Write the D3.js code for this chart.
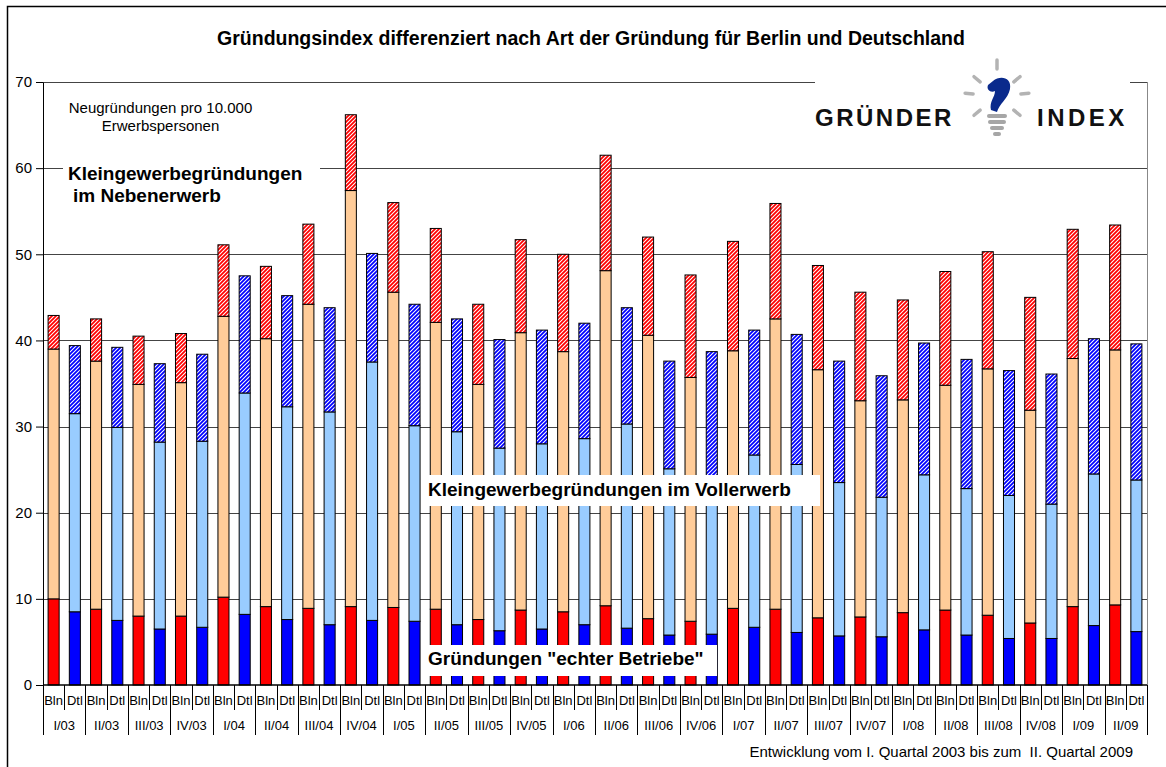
<!DOCTYPE html>
<html>
<head>
<meta charset="utf-8">
<script src="https://cdn.jsdelivr.net/npm/d3@7"></script>
<style>
  body { margin: 0; background: #fff; }
  text { font-family: "Liberation Sans", Arial, sans-serif; fill: #000; }
</style>
</head>
<body>
<div id="chart"></div>
<script>
// Quartale (I/03 bis II/09)
const quartale = ["I/03","II/03","III/03","IV/03","I/04","II/04","III/04","IV/04",
  "I/05","II/05","III/05","IV/05","I/06","II/06","III/06","IV/06",
  "I/07","II/07","III/07","IV/07","I/08","II/08","III/08","IV/08","I/09","II/09"];
const laender = ["Bln", "Dtl"];

// Berlin: Gründungen echter Betriebe, Kleingewerbe Vollerwerb, Kleingewerbe Nebenerwerb
const blnEcht  = [10.0,8.8,8.0,8.0,10.2,9.1,8.9,9.1,9.0,8.8,7.6,8.7,8.5,9.2,7.7,7.4,8.9,8.8,7.8,7.9,8.4,8.7,8.1,7.2,9.1,9.3];
const blnVoll  = [29.0,28.8,26.9,27.1,32.6,31.1,35.3,48.3,36.6,33.3,27.3,32.2,30.2,38.9,32.9,28.3,29.9,33.7,28.8,25.1,24.7,26.1,28.6,24.7,28.8,29.6];
const blnNeben = [3.9,4.9,5.6,5.7,8.3,8.4,9.3,8.8,10.4,10.9,9.3,10.8,11.3,13.4,11.4,11.9,12.7,13.4,12.1,12.6,11.6,13.2,13.6,13.1,15.0,14.5];

// Deutschland
const dtlEcht  = [8.5,7.5,6.5,6.7,8.2,7.6,7.0,7.5,7.4,7.0,6.3,6.5,7.0,6.6,5.8,5.9,6.7,6.1,5.7,5.6,6.4,5.8,5.4,5.4,6.9,6.2];
const dtlVoll  = [23.0,22.4,21.7,21.6,25.7,24.7,24.7,30.0,22.7,22.4,21.2,21.5,21.6,23.7,19.3,18.3,20.0,19.5,17.8,16.2,18.0,17.0,16.6,15.6,17.6,17.6];
const dtlNeben = [7.9,9.3,9.1,10.1,13.6,12.9,12.1,12.6,14.1,13.1,12.6,13.2,13.4,13.5,12.5,14.5,14.5,15.1,14.1,14.1,15.3,15.0,14.5,15.1,15.7,15.8];

const yTicks = [0,10,20,30,40,50,60,70];

// Zeilen für den Stapel
const rows = [];
quartale.forEach(function(q, i) {
    rows.push({ key: q + "-Bln", land: "Bln", quartal: q, echt: blnEcht[i], voll: blnVoll[i], neben: blnNeben[i] });
    rows.push({ key: q + "-Dtl", land: "Dtl", quartal: q, echt: dtlEcht[i], voll: dtlVoll[i], neben: dtlNeben[i] });
});

const width = 1166, height = 767;
const margin = { top: 82, right: 19, bottom: 82, left: 43 };
const plotRight = width - margin.right;

const svg = d3.select("#chart").append("svg")
    .attr("width", width)
    .attr("height", height);

// Schraffuren
const defs = svg.append("defs");
function schraffur(id, farbe) {
    const p = defs.append("pattern")
        .attr("id", id)
        .attr("patternUnits", "userSpaceOnUse")
        .attr("width", 4).attr("height", 4);
    p.append("rect").attr("width", 4).attr("height", 4).attr("fill", "#fff");
    p.append("path")
        .attr("d", "M-1,1 l2,-2 M0,4 l4,-4 M3,5 l2,-2")
        .attr("stroke", farbe)
        .attr("stroke-width", 1.8);
}
schraffur("schraffRot", "#ff0000");
schraffur("schraffBlau", "#0000ff");

const farben = {
    Bln: { echt: "#ff0000", voll: "#ffcc99", neben: "url(#schraffRot)" },
    Dtl: { echt: "#0000ff", voll: "#99ccff", neben: "url(#schraffBlau)" }
};

// Außenrahmen
svg.append("rect")
    .attr("x", 7.5).attr("y", 6.5)
    .attr("width", 1200).attr("height", 800)
    .attr("fill", "none")
    .attr("stroke", "#000")
    .attr("stroke-width", 1.5);

// Skalen
const x = d3.scaleBand()
    .domain(rows.map(d => d.key))
    .range([margin.left, plotRight])
    .paddingInner(0.48)
    .paddingOuter(0.24);

const y = d3.scaleLinear()
    .domain([0, 70])
    .range([685, margin.top]);

// Gitterlinien
svg.append("g")
    .selectAll("line")
    .data(yTicks.filter(t => t > 0))
  .enter().append("line")
    .attr("x1", margin.left).attr("x2", plotRight)
    .attr("y1", d => Math.round(y(d)) + 0.5).attr("y2", d => Math.round(y(d)) + 0.5)
    .attr("stroke", "#444")
    .attr("stroke-width", 1);

// rechter Rand der Zeichenfläche
svg.append("line")
    .attr("x1", plotRight + 0.5).attr("x2", plotRight + 0.5)
    .attr("y1", y(70)).attr("y2", y(0))
    .attr("stroke", "#888");

// Balken
const stack = d3.stack().keys(["echt", "voll", "neben"]);
const series = stack(rows);

svg.append("g")
    .selectAll("g")
    .data(series)
  .enter().append("g")
    .each(function(s) {
        d3.select(this).selectAll("rect")
            .data(s)
          .enter().append("rect")
            .attr("x", d => x(d.data.key))
            .attr("y", d => y(d[1]))
            .attr("width", x.bandwidth())
            .attr("height", d => y(d[0]) - y(d[1]))
            .attr("fill", d => farben[d.data.land][s.key])
            .attr("stroke", "#000")
            .attr("stroke-width", 1);
    });

// Y-Achse
const yAxis = d3.axisLeft(y)
    .tickValues(yTicks)
    .tickSize(7)
    .tickSizeOuter(0)
    .tickPadding(4);

const yG = svg.append("g")
    .attr("transform", "translate(" + margin.left + ",0)")
    .call(yAxis);
yG.selectAll("text").style("font-size", "15px");
yG.selectAll("line, path").attr("stroke", "#000");

// X-Achse (zweistufig)
const step = x.step();
const x0 = x.range()[0];
const xG = svg.append("g");

xG.append("line")
    .attr("x1", margin.left).attr("x2", plotRight)
    .attr("y1", y(0)).attr("y2", y(0))
    .attr("stroke", "#000")
    .attr("stroke-width", 1.5);

xG.selectAll(".trenner")
    .data(d3.range(rows.length + 1))
  .enter().append("line")
    .attr("class", "trenner")
    .attr("x1", i => Math.round(x0 + i * step) + 0.5)
    .attr("x2", i => Math.round(x0 + i * step) + 0.5)
    .attr("y1", y(0))
    .attr("y2", i => i % 2 === 0 ? 735 : 710)
    .attr("stroke", "#000");

xG.selectAll(".land")
    .data(rows)
  .enter().append("text")
    .attr("class", "land")
    .attr("x", d => x(d.key) + x.bandwidth() / 2)
    .attr("y", 705)
    .attr("text-anchor", "middle")
    .style("font-size", "13px")
    .text(d => d.land);

xG.selectAll(".quartal")
    .data(quartale)
  .enter().append("text")
    .attr("class", "quartal")
    .attr("x", (d, i) => x0 + (2 * i + 1) * step)
    .attr("y", 730)
    .attr("text-anchor", "middle")
    .style("font-size", "13px")
    .text(d => d);

// Titel
svg.append("text")
    .attr("x", 591).attr("y", 45)
    .attr("text-anchor", "middle")
    .style("font-size", "19.5px")
    .style("font-weight", "bold")
    .text("Gründungsindex differenziert nach Art der Gründung für Berlin und Deutschland");

// Einheit
svg.append("text")
    .attr("x", 160.5).attr("y", 113)
    .attr("text-anchor", "middle")
    .style("font-size", "15px")
    .text("Neugründungen pro 10.000");
svg.append("text")
    .attr("x", 160.5).attr("y", 131)
    .attr("text-anchor", "middle")
    .style("font-size", "15px")
    .text("Erwerbspersonen");

// Beschriftungen der Balkenteile
function labelBox(bx, by, bw, bh) {
    svg.append("rect")
        .attr("x", bx).attr("y", by)
        .attr("width", bw).attr("height", bh)
        .attr("fill", "#fff");
}
function labelText(tx, ty, txt) {
    svg.append("text")
        .attr("x", tx).attr("y", ty)
        .style("font-size", "19px")
        .style("font-weight", "bold")
        .text(txt);
}

labelBox(63, 150, 257, 62);
labelText(68, 180, "Kleingewerbegründungen");
labelText(73, 202, "im Nebenerwerb");

labelBox(425, 475, 395, 31);
labelText(428, 496, "Kleingewerbegründungen im Vollerwerb");

labelBox(423, 645, 294, 31);
labelText(428, 665, "Gründungen \"echter Betriebe\"");

// Fußzeile
svg.append("text")
    .attr("x", 1133).attr("y", 757)
    .attr("text-anchor", "end")
    .style("font-size", "15px")
    .style("white-space", "pre")
    .text("Entwicklung vom I. Quartal 2003 bis zum  II. Quartal 2009");

// Logo
const logo = svg.append("g");
logo.append("rect")
    .attr("x", 815).attr("y", 62)
    .attr("width", 315).attr("height", 96)
    .attr("fill", "#fff");

logo.append("text")
    .attr("x", 815).attr("y", 126)
    .style("font-size", "24px")
    .style("font-weight", "bold")
    .style("letter-spacing", "2.5px")
    .style("fill", "#111")
    .text("GRÜNDER");
logo.append("text")
    .attr("x", 1037).attr("y", 126)
    .style("font-size", "24px")
    .style("font-weight", "bold")
    .style("letter-spacing", "3.5px")
    .style("fill", "#111")
    .text("INDEX");

// Glühbirne: Strahlen
const strahlen = [[-90, 27, 36], [-140, 22, 30], [-175, 24, 32], [140, 22, 30], [-40, 22, 30], [-5, 24, 32], [40, 22, 30]];
strahlen.forEach(function(s) {
    const a = s[0] * Math.PI / 180;
    logo.append("line")
        .attr("x1", 997 + Math.cos(a) * s[1]).attr("y1", 96 + Math.sin(a) * s[1])
        .attr("x2", 997 + Math.cos(a) * s[2]).attr("y2", 96 + Math.sin(a) * s[2])
        .attr("stroke", "#b3b3b3")
        .attr("stroke-width", 3.5)
        .attr("stroke-linecap", "round");
});
logo.append("path")
    .attr("d", "M993,81 C1000,75 1012,77 1010,89 C1008,99 999,104 997,112 L991,110 C989,102 995,97 995,91 C991,93 986,90 988,85 Z")
    .attr("fill", "#0a2a8c");
[[987, 114, 20], [988, 120, 18], [990, 126, 14], [993, 132, 8]].forEach(function(b) {
    logo.append("rect")
        .attr("x", b[0]).attr("y", b[1])
        .attr("width", b[2]).attr("height", 4)
        .attr("rx", 2)
        .attr("fill", "#a6a6a6");
});
</script>
</body>
</html>
